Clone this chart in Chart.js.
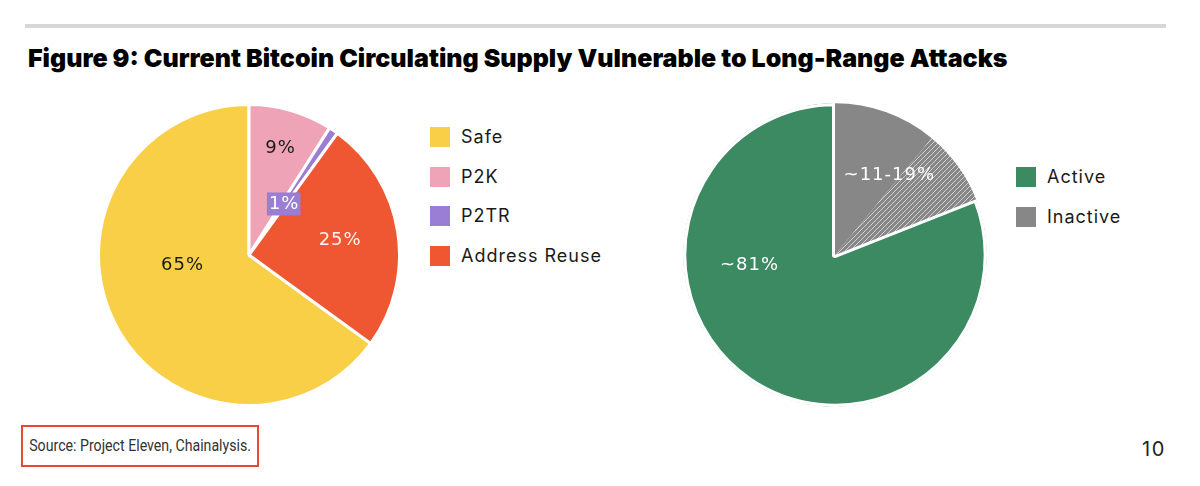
<!DOCTYPE html>
<html>
<head>
<meta charset="utf-8">
<script src="https://cdn.jsdelivr.net/npm/chart.js@4/dist/chart.umd.min.js"></script>
<style>
  body { margin: 0; width: 1200px; height: 486px; background: #fff; position: relative; overflow: hidden; font-family: Inter, "Noto Sans", sans-serif; color: #1a1a1a; }
  .rule { position: absolute; left: 25px; top: 24px; width: 1141px; height: 4px; background: #d6d6db; }
  h1 { position: absolute; left: 28px; top: 43px; margin: 0; font-size: 25px; font-weight: 900; color: #000; white-space: nowrap; }
  .pie { position: absolute; top: 103px; width: 304px; height: 304px; }
  .legend { position: absolute; font-size: 18px; letter-spacing: 1px; }
  .legend div { height: 20px; line-height: 20px; margin-bottom: 19.5px; white-space: nowrap; }
  .legend span { display: inline-block; width: 20px; height: 20px; vertical-align: top; margin-right: 11px; }
  .source { position: absolute; left: 21px; top: 425px; width: 234px; height: 38px; border: 2.5px solid #e8492f; box-sizing: content-box; }
  .source div { font-family: Roboto, sans-serif; font-size: 16px; line-height: 38px; color: #333; white-space: nowrap; transform: scaleX(0.885); transform-origin: left center; padding-left: 7px; }
  .page { position: absolute; left: 1142px; top: 437px; font-size: 20px; letter-spacing: 1.5px; color: #222; }
</style>
</head>
<body>
<div class="rule"></div>
<h1>Figure 9: Current Bitcoin Circulating Supply Vulnerable to Long-Range Attacks</h1>

<div class="pie" style="left:97px"><canvas id="supplyChart" width="304" height="304"></canvas></div>
<div class="legend" id="supplyLegend" style="left:430px; top:127px"></div>

<div class="pie" style="left:683px"><canvas id="activityChart" width="304" height="304"></canvas></div>
<div class="legend" id="activityLegend" style="left:1016px; top:167px"></div>

<div class="source"><div>Source: Project Eleven, Chainalysis.</div></div>
<div class="page">10</div>

<script>
// left pie: how the circulating supply splits by exposure
const supplyLabels = ['Safe', 'P2K', 'P2TR', 'Address Reuse'];
const supplyShares = [65, 9, 1, 25];
const supplyTexts = ['65%', '9%', '1%', '25%'];
const supplyColors = ['#f8cf47', '#eea3b7', '#9a7ed5', '#ee5731'];

// right pie: active vs inactive, inactive given as a range (11-19%)
const activityLabels = ['Active', 'Inactive'];
const activitySlices = ['Active', 'Inactive', 'Inactive (upper range)'];
const activityShares = [81, 11, 8];
const activityTexts = ['~81%', '~11-19%'];
const activityColors = ['#3c8a62', '#878787'];

const sliceLabels = {
    id: 'sliceLabels',
    afterDatasetsDraw(chart, args, opts) {
        const ctx = chart.ctx;
        const arcs = chart.getDatasetMeta(0).data;
        opts.items.forEach(item => {
            const first = arcs[item.from];
            const last = arcs[item.to !== undefined ? item.to : item.from];
            const ang = item.angle !== undefined
                ? item.angle * Math.PI / 180 - Math.PI / 2
                : (first.startAngle + last.endAngle) / 2;
            const r = first.outerRadius * item.r;
            const x = first.x + Math.cos(ang) * r;
            const y = first.y + Math.sin(ang) * r;
            ctx.save();
            ctx.font = opts.font;
            ctx.letterSpacing = opts.spacing;
            ctx.textAlign = 'center';
            ctx.textBaseline = 'middle';
            if (item.box) {
                const w = ctx.measureText(item.text).width + 3;
                ctx.fillStyle = item.box;
                ctx.fillRect(x - w / 2, y - 11.5, w, 23);
            }
            ctx.fillStyle = item.color;
            ctx.fillText(item.text, x + 0.5, y);
            ctx.restore();
        });
    }
};

function hatch(base, line) {
    const c = document.createElement('canvas');
    c.width = 5;
    c.height = 5;
    const g = c.getContext('2d');
    g.fillStyle = base;
    g.fillRect(0, 0, 5, 5);
    g.strokeStyle = line;
    g.lineWidth = 1;
    g.beginPath();
    g.moveTo(-1, 6); g.lineTo(6, -1);
    g.moveTo(-1, 1); g.lineTo(1, -1);
    g.moveTo(4, 6); g.lineTo(6, 4);
    g.stroke();
    return g.createPattern(c, 'repeat');
}

function buildLegend(id, labels, colors) {
    document.getElementById(id).innerHTML = labels
        .map((l, i) => '<div><span style="background:' + colors[i] + '"></span>' + l + '</div>')
        .join('');
}

buildLegend('supplyLegend', supplyLabels, supplyColors);
buildLegend('activityLegend', activityLabels, activityColors);

const labelFont = '18px "DejaVu Sans", sans-serif';
const sum = a => a.reduce((s, v) => s + v, 0);

// Safe is listed first but sits last clockwise, so start it where the others end
new Chart(document.getElementById('supplyChart'), {
    type: 'pie',
    data: {
        labels: supplyLabels,
        datasets: [{
            data: supplyShares,
            backgroundColor: supplyColors,
            borderColor: '#ffffff',
            borderWidth: 3
        }]
    },
    options: {
        responsive: false,
        animation: false,
        rotation: 360 * (1 - supplyShares[0] / sum(supplyShares)),
        layout: { padding: 0 },
        plugins: {
            legend: { display: false },
            tooltip: { enabled: false },
            sliceLabels: {
                font: labelFont,
                spacing: '1px',
                items: [
                    { from: 0, text: supplyTexts[0], r: 0.45, angle: 261, color: '#1a1a1a' },
                    { from: 1, text: supplyTexts[1], r: 0.74, color: '#1a1a1a' },
                    { from: 2, text: supplyTexts[2], r: 0.41, color: '#ffffff', box: supplyColors[2] },
                    { from: 3, text: supplyTexts[3], r: 0.61, color: '#fff3ee' }
                ]
            }
        }
    },
    plugins: [sliceLabels]
});

new Chart(document.getElementById('activityChart'), {
    type: 'pie',
    data: {
        labels: activitySlices,
        datasets: [{
            data: activityShares,
            backgroundColor: [activityColors[0], activityColors[1],
                hatch(activityColors[1], '#d2d2d2')],
            borderColor: '#ffffff',
            borderWidth: [3, 0, 0],
            borderAlign: 'inner'
        }]
    },
    options: {
        responsive: false,
        animation: false,
        rotation: 360 * (1 - activityShares[0] / sum(activityShares)),
        layout: { padding: 0 },
        plugins: {
            legend: { display: false },
            tooltip: { enabled: false },
            sliceLabels: {
                font: labelFont,
                spacing: '1px',
                items: [
                    { from: 0, text: activityTexts[0], r: 0.57, angle: 263, color: '#ffffff' },
                    { from: 1, to: 2, text: activityTexts[1], r: 0.63, color: '#ffffff' }
                ]
            }
        }
    },
    plugins: [sliceLabels]
});
</script>
</body>
</html>
